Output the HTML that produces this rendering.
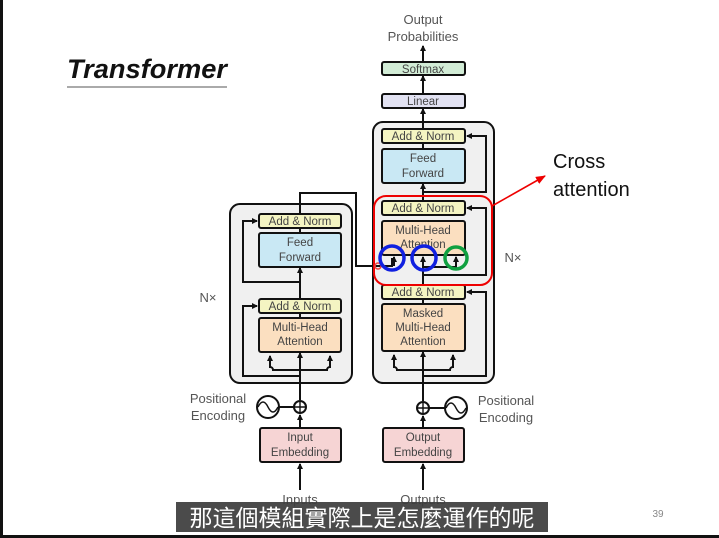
<!DOCTYPE html>
<html><head><meta charset="utf-8"><style>
html,body{margin:0;padding:0;background:#fff;}
svg{display:block}
text{font-family:"Liberation Sans",sans-serif;}
</style></head><body>
<svg width="719" height="538" viewBox="0 0 719 538" xmlns="http://www.w3.org/2000/svg">
<defs>
<marker id="a" markerWidth="6" markerHeight="6" refX="5" refY="3" orient="auto" markerUnits="userSpaceOnUse"><path d="M0,0 L6,3 L0,6 z" fill="#111"/></marker>
<marker id="r" markerWidth="10" markerHeight="8" refX="9" refY="4" orient="auto" markerUnits="userSpaceOnUse"><path d="M0,0 L10,4 L0,8 z" fill="#e00"/></marker>
</defs>
<rect x="0" y="0" width="719" height="538" fill="#fff"/>
<rect x="0" y="0" width="3" height="538" fill="#111"/>
<rect x="0" y="535" width="719" height="3" fill="#111"/>
<text x="67" y="78" font-size="27" font-weight="bold" font-style="italic" font-family="Liberation Sans" fill="#111" textLength="160" lengthAdjust="spacingAndGlyphs">Transformer</text>
<line x1="67" y1="87" x2="227" y2="87" stroke="#777" stroke-width="1.2"/>

<g stroke="#111" stroke-width="2" fill="none">
<rect x="230" y="204" width="122" height="179" rx="10" fill="#f0f0f0"/>
<rect x="373" y="122" width="121" height="261" rx="10" fill="#f0f0f0"/>
</g>
<g stroke="#111" stroke-width="2" fill="none">
<line x1="300" y1="462" x2="300" y2="415" marker-end="url(#a)"/>
<line x1="300" y1="400" x2="300" y2="318"/>
<line x1="300" y1="352" x2="300" y2="313"/>
<line x1="300" y1="299" x2="300" y2="268" marker-end="url(#a)"/>
<line x1="300" y1="233" x2="300" y2="228"/>
<path d="M300,370 H273 a3,3 0 0 0 -3,-3 V356" marker-end="url(#a)"/>
<path d="M300,370 H327 a3,3 0 0 1 3,-3 V356" marker-end="url(#a)"/>
<path d="M300,370 V353" marker-end="url(#a)"/>
<path d="M300,376 H243 V306 H257" marker-end="url(#a)"/>
<path d="M300,282 H243 V221 H257" marker-end="url(#a)"/>
<path d="M300,214 V193 H356 V266 H392 V258"/>
<line x1="423" y1="490" x2="423" y2="464" marker-end="url(#a)"/>
<line x1="300" y1="490" x2="300" y2="464" marker-end="url(#a)"/>
<line x1="423" y1="428" x2="423" y2="416" marker-end="url(#a)"/>
<line x1="423" y1="401" x2="423" y2="352" marker-end="url(#a)"/>
<path d="M423,370 H397 a3,3 0 0 0 -3,-3 V355" marker-end="url(#a)"/>
<path d="M423,370 H450 a3,3 0 0 1 3,-3 V355" marker-end="url(#a)"/>
<path d="M423,376 H486 V292 H467" marker-end="url(#a)"/>
<line x1="423" y1="304" x2="423" y2="299"/>
<path d="M423,285 V267 H456 V257" marker-end="url(#a)"/>
<path d="M423,267 V257" marker-end="url(#a)"/>
<path d="M394,266 V257" marker-end="url(#a)"/>
<path d="M423,275 H486 V208 H467" marker-end="url(#a)"/>
<line x1="423" y1="201" x2="423" y2="184" marker-end="url(#a)"/>
<line x1="423" y1="149" x2="423" y2="143"/>
<path d="M423,192 H486 V136 H467" marker-end="url(#a)"/>
<line x1="423" y1="129" x2="423" y2="109" marker-end="url(#a)"/>
<line x1="423" y1="94" x2="423" y2="76" marker-end="url(#a)"/>
<line x1="423" y1="62" x2="423" y2="46" marker-end="url(#a)"/>
<line x1="279" y1="407" x2="294" y2="407"/>
<line x1="429" y1="408" x2="445" y2="408"/>
</g>
<g stroke="#111" stroke-width="2">
<rect x="259" y="214" width="82" height="14" rx="2" fill="#f4f4c2"/>
<rect x="259" y="233" width="82" height="34" rx="2" fill="#c9e8f4"/>
<rect x="259" y="299" width="82" height="14" rx="2" fill="#f4f4c2"/>
<rect x="259" y="318" width="82" height="34" rx="2" fill="#fbdfc0"/>
<rect x="382" y="129" width="83" height="14" rx="2" fill="#f4f4c2"/>
<rect x="382" y="149" width="83" height="34" rx="2" fill="#c9e8f4"/>
<rect x="382" y="201" width="83" height="14" rx="2" fill="#f4f4c2"/>
<rect x="382" y="221" width="83" height="34" rx="2" fill="#fbdfc0"/>
<rect x="382" y="285" width="83" height="14" rx="2" fill="#f4f4c2"/>
<rect x="382" y="304" width="83" height="47" rx="2" fill="#fbdfc0"/>
<rect x="382" y="94" width="83" height="14" rx="2" fill="#e2e2f2"/>
<rect x="382" y="62" width="83" height="13" rx="2" fill="#d2ecd6"/>
<rect x="260" y="428" width="81" height="34" rx="2" fill="#f6d4d4"/>
<rect x="383" y="428" width="81" height="34" rx="2" fill="#f6d4d4"/>
<circle cx="300" cy="407" r="6" fill="#fff"/>
<circle cx="423" cy="408" r="6" fill="#fff"/>
<circle cx="268" cy="407" r="11" fill="#fff"/>
<circle cx="456" cy="408" r="11" fill="#fff"/>
</g>
<g stroke="#111" stroke-width="1.4" fill="none">
<path d="M294,407 H306 M300,401 V413"/>
<path d="M417,408 H429 M423,402 V414"/>
<path d="M258,407 q5,-10 10,0 t10,0"/>
<path d="M446,408 q5,-10 10,0 t10,0"/>
</g>
<g font-size="11.5" fill="#444" text-anchor="middle">
<text x="300" y="225">Add &amp; Norm</text>
<text x="300" y="246">Feed</text><text x="300" y="261">Forward</text>
<text x="300" y="310">Add &amp; Norm</text>
<text x="300" y="331">Multi-Head</text><text x="300" y="345">Attention</text>
<text x="423" y="140">Add &amp; Norm</text>
<text x="423" y="162">Feed</text><text x="423" y="177">Forward</text>
<text x="423" y="212">Add &amp; Norm</text>
<text x="423" y="234">Multi-Head</text><text x="423" y="248">Attention</text>
<text x="423" y="296">Add &amp; Norm</text>
<text x="423" y="317">Masked</text><text x="423" y="331">Multi-Head</text><text x="423" y="345">Attention</text>
<text x="423" y="105">Linear</text>
<text x="423" y="73">Softmax</text>
<text x="300" y="441">Input</text><text x="300" y="456">Embedding</text>
<text x="423" y="441">Output</text><text x="423" y="456">Embedding</text>
</g>
<g font-size="13" fill="#555">
<text x="423" y="24" text-anchor="middle">Output</text>
<text x="423" y="41" text-anchor="middle">Probabilities</text>
<text x="218" y="403" text-anchor="middle">Positional</text>
<text x="218" y="420" text-anchor="middle">Encoding</text>
<text x="506" y="405" text-anchor="middle">Positional</text>
<text x="506" y="422" text-anchor="middle">Encoding</text>
<text x="208" y="302" text-anchor="middle">N×</text>
<text x="513" y="262" text-anchor="middle">N×</text>
<text x="300" y="504" text-anchor="middle">Inputs</text>
<text x="423" y="504" text-anchor="middle">Outputs</text>
</g>
<rect x="374" y="196" width="118" height="89" rx="12" fill="none" stroke="#e00" stroke-width="2"/>
<line x1="492" y1="206" x2="545" y2="176" stroke="#e00" stroke-width="1.6" marker-end="url(#r)"/>
<circle cx="378" cy="266" r="3" fill="none" stroke="#e44" stroke-width="1.5"/>
<circle cx="392" cy="258" r="12" fill="none" stroke="#1020e0" stroke-width="3.5"/>
<circle cx="424" cy="258" r="12" fill="none" stroke="#1020e0" stroke-width="3.5"/>
<circle cx="456" cy="258" r="11" fill="none" stroke="#10a040" stroke-width="3.5"/>
<text x="553" y="168" font-size="20" fill="#111">Cross</text>
<text x="553" y="196" font-size="20" fill="#111">attention</text>
<rect x="176" y="502" width="372" height="30" fill="#3c3c3c" opacity="0.92"/>
<text x="362" y="526" font-size="23" fill="#fff" text-anchor="middle" font-family="'Liberation Sans','Noto Sans CJK TC',sans-serif">那這個模組實際上是怎麼運作的呢</text>
<text x="658" y="517" font-size="10" fill="#888" text-anchor="middle">39</text>
</svg>
</body></html>
